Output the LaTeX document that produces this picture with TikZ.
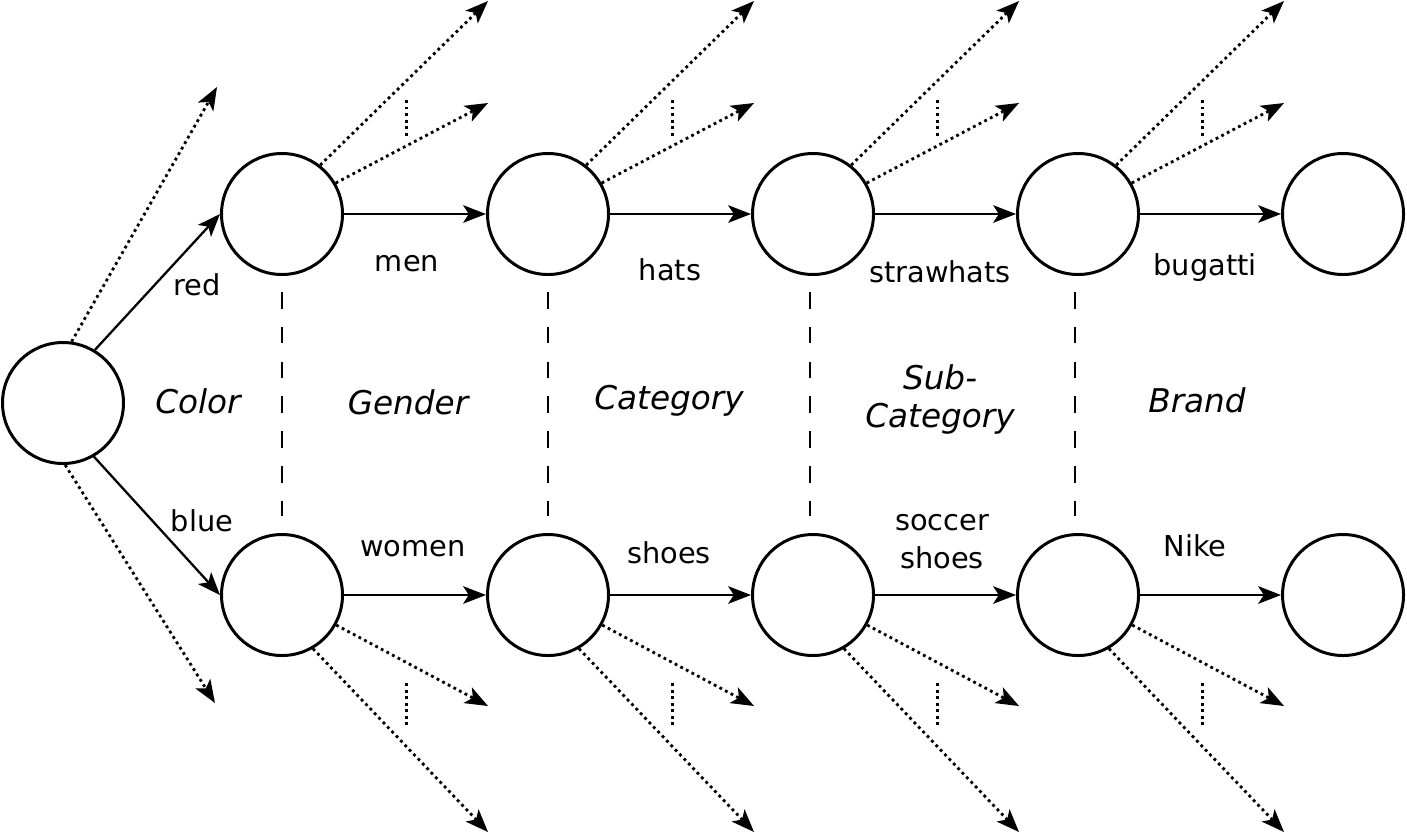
\documentclass[tikz,border=0pt]{standalone}
\usepackage{fontspec}
\setmainfont{DejaVu Sans}
\usetikzlibrary{arrows.meta}
\tikzset{
	state/.style={circle,draw,line width=0.85pt,minimum size=1.21cm,inner sep=0pt},
	trans/.style={line width=0.65pt,-{Stealth[length=6.5pt,width=5pt,inset=1.6pt]}},
	other/.style={trans,line width=0.8pt,densely dotted},
	level/.style={line width=0.6pt,dash pattern=on 4.7pt off 5.2pt},
	valuelbl/.style={font=\fontsize{8.2}{10.8}\selectfont,align=center},
	attrlbl/.style={font=\fontsize{9.3}{10.8}\selectfont\itshape,align=center}
}

\begin{document}
\begin{tikzpicture}
	\useasboundingbox (0,0) rectangle (14.07,8.33);
	\node[state] (root) at (0.63,4.30) {};
	\foreach \cx [count=\i] in {2.82,5.48,8.13,10.78,13.43}{
		\node[state] (t\i) at (\cx,6.19) {};
		\node[state] (b\i) at (\cx,2.38) {};}
	% root branches
	\coordinate (rootup) at (2.17,7.46);
	\coordinate (rootdown) at (2.15,1.30);
	\draw[trans] (root.59) -- (t1.west);
	\draw[trans] (root.-60) -- (b1.west);
	\draw[other] (root.82) -- (rootup);
	\draw[other] (root.-88) -- (rootdown);
	% main paths
	\foreach \i/\j in {1/2,2/3,3/4,4/5}{
		\draw[trans] (t\i) -- (t\j);
		\draw[trans] (b\i) -- (b\j);}
	% other values and level separators
	\foreach \i/\dx in {1/0,2/0,3/-0.03,4/-0.03}{
		\coordinate (tfar\i) at ([shift={(2.06,2.13)}]t\i.center);
		\coordinate (tnear\i) at ([shift={(2.06,1.11)}]t\i.center);
		\coordinate (bnear\i) at ([shift={(2.06,-1.11)}]b\i.center);
		\coordinate (bfar\i) at ([shift={(2.06,-2.37)}]b\i.center);
		\draw[other] (t\i.52) -- (tfar\i);
		\draw[other] (t\i.30) -- (tnear\i);
		\draw[other] (b\i.-29) -- (bnear\i);
		\draw[other] (b\i.-60) -- (bfar\i);
		\draw[line width=0.85pt,densely dotted] ([shift={(1.24,1.14)}]t\i.center) -- ([shift={(1.24,0.77)}]t\i.center);
		\draw[line width=0.85pt,densely dotted] ([shift={(1.24,-0.88)}]b\i.center) -- ([shift={(1.24,-1.32)}]b\i.center);
		\draw[level] ([shift={(\dx,-0.16)}]t\i.south) -- ([shift={(\dx,0.17)}]b\i.north);}
	% value labels
	\node[valuelbl] (lred) at (1.97,5.48) {red};
	\node[valuelbl] (lblue) at (2.02,3.12) {blue};
	\node[valuelbl] (lmen) at (4.07,5.69) {men};
	\node[valuelbl] (lwomen) at (4.13,2.84) {women};
	\node[valuelbl] (lhats) at (6.70,5.63) {hats};
	\node[valuelbl] (lshoes) at (6.69,2.80) {shoes};
	\node[valuelbl] (lstraw) at (9.40,5.61) {strawhats};
	\node[valuelbl] (lsoccer) at (9.42,2.91) {soccer\\shoes};
	\node[valuelbl] (lbugatti) at (12.05,5.65) {bugatti};
	\node[valuelbl] (lnike) at (11.95,2.87) {Nike};
	% attribute labels
	\node[attrlbl] (acolor) at (1.98,4.32) {Color};
	\node[attrlbl] (agender) at (4.08,4.31) {Gender};
	\node[attrlbl] (acat) at (6.69,4.32) {Category};
	\node[attrlbl] (asubcat) at (9.40,4.34) {Sub-\\Category};
	\node[attrlbl] (abrand) at (11.97,4.33) {Brand};
\end{tikzpicture}
\end{document}
